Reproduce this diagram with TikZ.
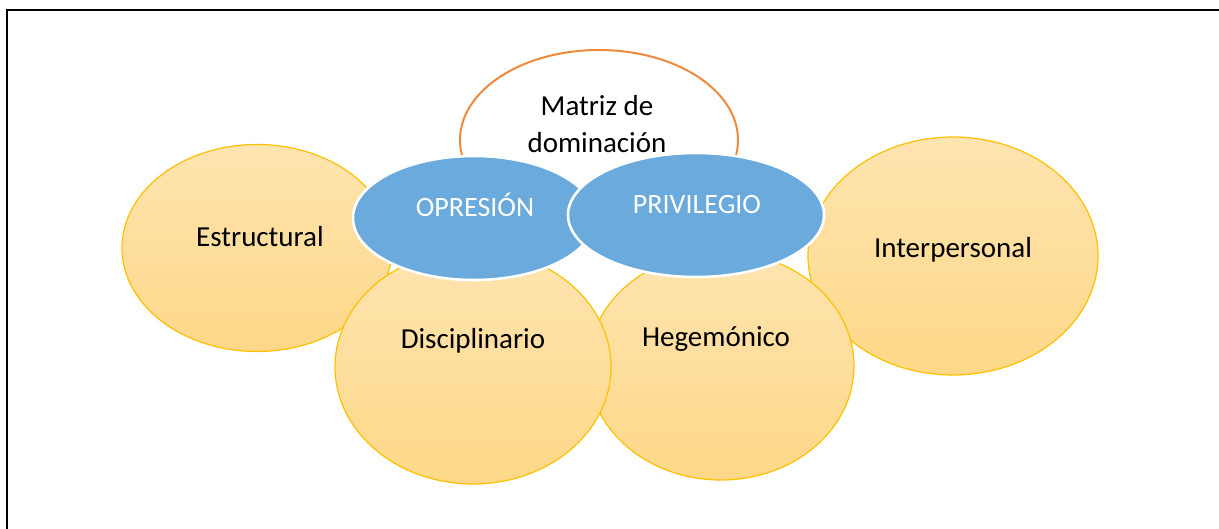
\documentclass[tikz,border=0pt]{standalone}
\usepackage{fontspec}
\setmainfont{Carlito}
\usetikzlibrary{shapes.geometric}
\definecolor{ybord}{HTML}{FFC000}
\definecolor{ytop}{HTML}{FEE4B0}
\definecolor{ybot}{HTML}{FDD888}
\definecolor{bluefill}{HTML}{6AAADC}
\definecolor{orangeline}{HTML}{EE8A3C}
\tikzset{
  yellowell/.style={ellipse, draw=ybord, line width=1.2pt, top color=ytop, bottom color=ybot, inner sep=0pt},
  blueell/.style={ellipse, draw=white, line width=2.6pt, fill=bluefill, inner sep=0pt},
  topell/.style={ellipse, draw=orangeline, line width=2pt, fill=white, inner sep=0pt},
  lbl/.style={anchor=base, inner sep=0pt, font=\fontsize{29}{35}\selectfont, text=black},
  wlbl/.style={anchor=base, inner sep=0pt, font=\fontsize{28}{34}\selectfont, text=white},
  frame/.style={draw=black, line width=2.2pt}
}
\begin{document}
\begin{tikzpicture}[x=1pt,y=-1pt]
\useasboundingbox (0,0) rectangle (1219,529);
% frame
\coordinate (f1) at (7,529);
\coordinate (f2) at (7,10);
\coordinate (f3) at (1219,10);
\draw[frame] (f1) -- (f2) -- (f3);
% top ellipse
\node[topell, minimum width=278pt, minimum height=180pt] (matriz) at (599,140) {};
% yellow ellipses
\node[yellowell, minimum width=290pt, minimum height=238pt] (inter) at (953,256) {};
\node[yellowell, minimum width=266pt, minimum height=228pt] (hege) at (721,366) {};
\node[yellowell, minimum width=270pt, minimum height=207pt] (estr) at (257,248) {};
\node[yellowell, minimum width=276pt, minimum height=234pt] (disc) at (473,367) {};
% blue ellipses
\node[blueell, minimum width=242pt, minimum height=124pt] (opr) at (474,218) {};
\node[blueell, minimum width=256pt, minimum height=124pt] (priv) at (696,215) {};
% texts
\node[lbl] (t1) at (597,115.5) {Matriz de};
\node[lbl] (t2) at (597,152.5) {dominación};
\node[lbl] (t3) at (260,247) {Estructural};
\node[lbl] (t4) at (953,257.5) {Interpersonal};
\node[lbl] (t5) at (473,348.5) {Disciplinario};
\node[lbl] (t6) at (716,346.5) {Hegemónico};
\node[wlbl] (t7) at (475,216.5) {OPRESIÓN};
\node[wlbl] (t8) at (697,214) {PRIVILEGIO};
\end{tikzpicture}
\end{document}
